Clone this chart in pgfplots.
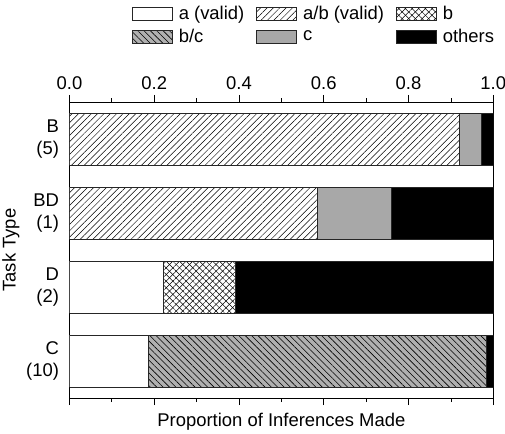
\documentclass[border=0pt]{standalone}
\usepackage{pgfplots}
\pgfplotsset{compat=1.18}
\usepackage{fontspec}
\setmainfont{Liberation Sans}
\usetikzlibrary{patterns.meta}
\definecolor{cgray}{RGB}{168,168,168}
\definecolor{bcgray}{RGB}{176,176,176}
\begin{document}
\begin{tikzpicture}
\begin{axis}[
  at={(0,0)}, anchor=south west,
  scale only axis, width=423.8bp, height=296bp,
  font=\fontsize{18.5}{22}\selectfont,
  /pgf/number format/assume math mode=true,
  xbar stacked, bar width=0.7,
  xmin=0, xmax=1, ymin=-0.5, ymax=3.5,
  axis line style={line width=0.9bp},
  xtick={0,0.2,0.4,0.6,0.8,1.0},
  minor x tick num=1,
  tick align=outside,
  major tick length=7bp, minor tick length=4bp,
  tick style={line width=0.8bp, black},
  xticklabel pos=upper,
  xticklabel style={yshift=1.5bp, /pgf/number format/.cd, fixed, fixed zerofill, precision=1},
  ytick={0,1,2,3},
  yticklabels={{C\\(10)},{D\\(2)},{BD\\(1)},{B\\(5)}},
  yticklabel style={align=right},
  ytick style={draw=none},
  xlabel={Proportion of Inferences Made},
  xlabel style={at={(axis description cs:0.5,0)}, anchor=base, yshift=-28bp},
  ylabel={Task Type},
  legend columns=3,
  legend cell align=left,
  legend style={draw=none, fill=none, at={(axis description cs:0.147,1.33)}, anchor=north west,
    inner sep=0pt, row sep=4bp,
    /tikz/every even column/.append style={column sep=10bp}},
  every axis plot/.append style={draw=black!85, line width=0.8bp,
    legend image code/.code={\draw[##1] (0bp,-6.5bp) rectangle (40bp,6.5bp); \path (44bp,0bp);}},
]
\addplot[fill=white] coordinates {(0.186,0) (0.2215,1) (0,2) (0,3)};
\addlegendentry{a (valid)}
\addplot[fill=white, postaction={pattern={Lines[angle=45,distance=4.5bp,line width=0.5bp]}, pattern color=black}] coordinates {(0,0) (0,1) (0.585,2) (0.920,3)};
\addlegendentry{a/b (valid)}
\addplot[fill=white, postaction={pattern={Lines[angle=45,distance=4.7bp,line width=0.5bp]}}, postaction={pattern={Lines[angle=-45,distance=4.7bp,line width=0.5bp]}}] coordinates {(0,0) (0.1705,1) (0,2) (0,3)};
\addlegendentry{b}
\addplot[fill=bcgray, postaction={pattern={Lines[angle=-45,distance=4.5bp,line width=0.6bp]}}] coordinates {(0.797,0) (0,1) (0,2) (0,3)};
\addlegendentry{b/c}
\addplot[fill=cgray] coordinates {(0,0) (0,1) (0.174,2) (0.0525,3)};
\addlegendentry{c}
\addplot[fill=black] coordinates {(0.017,0) (0.608,1) (0.241,2) (0.0275,3)};
\addlegendentry{others}
\end{axis}
\pgfresetboundingbox
\useasboundingbox (-69.5bp,-36bp) rectangle (435.5bp,398bp);
\end{tikzpicture}
\end{document}
